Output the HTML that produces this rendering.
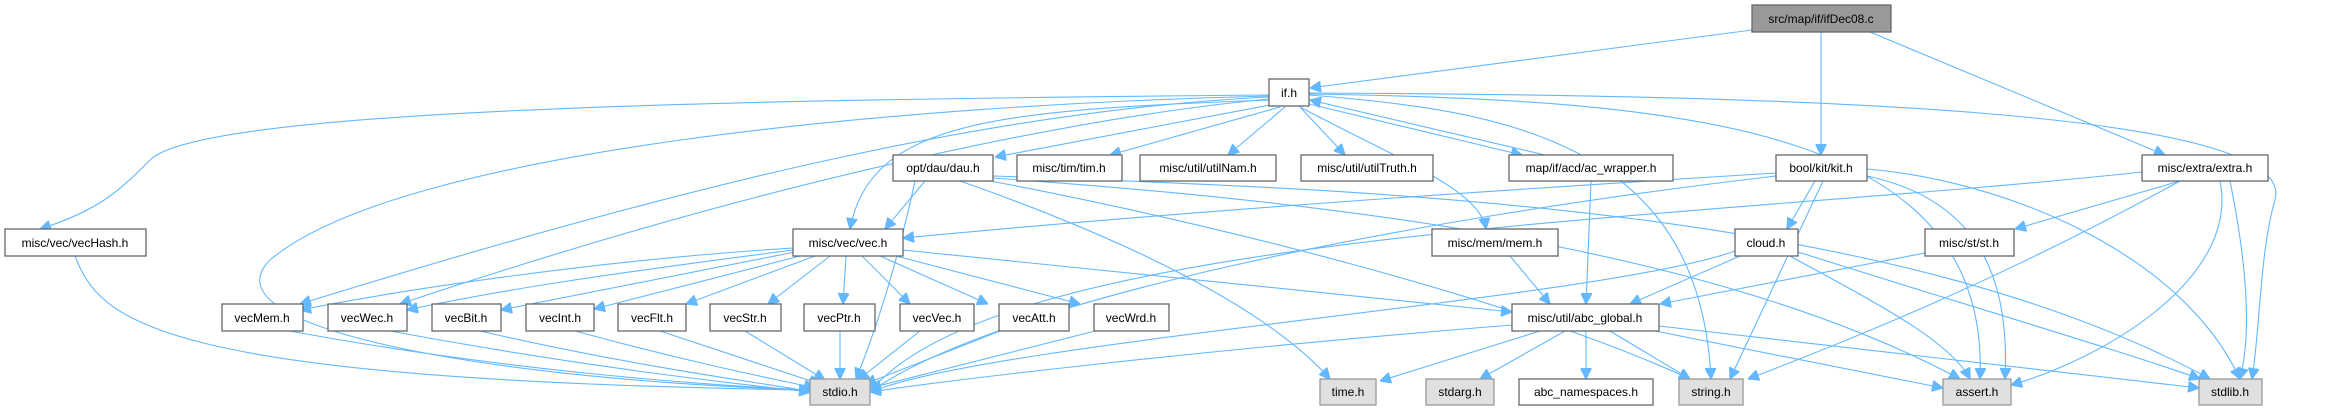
<!DOCTYPE html>
<html><head><meta charset="utf-8"><style>
html,body{margin:0;padding:0;background:#fff;}
svg{display:block;}
text{font-family:"Liberation Sans",Arial,sans-serif;font-size:12px;fill:#000;text-anchor:middle;}
.n{fill:#fff;stroke:#666;stroke-width:1.3;}
.g{fill:#e0e0e0;stroke:#999;stroke-width:1.3;}
.r{fill:#999;stroke:#666;stroke-width:1.3;}
path{fill:none;stroke:#63b8ff;stroke-width:1.1;}
</style></head><body>
<svg width="2327" height="411" viewBox="0 0 2327 411" xmlns="http://www.w3.org/2000/svg">
<defs><marker id="a" viewBox="0 0 10 10" refX="10" refY="5" markerWidth="11" markerHeight="11" markerUnits="userSpaceOnUse" orient="auto"><path d="M0,0 L10,5 L0,10 z" style="fill:#63b8ff;stroke:#63b8ff"/></marker></defs>
<g marker-end="url(#a)">
<!-- ifDec08 -->
<path d="M1752,30 L1310,88"/>
<path d="M1821,32 L1821,155"/>
<path d="M1870,32 L2165,155"/>
<!-- if.h -->
<path d="M1269,95 C700,100 200,110 150,160 C120,190 100,210 40,229"/>
<path d="M1269,96 C900,105 400,150 270,260 C200,330 500,380 810,390"/>
<path d="M1269,97 C1000,110 700,180 300,304"/>
<path d="M1269,99 C1100,115 800,170 400,304"/>
<path d="M1269,100 C1000,110 870,120 850,229"/>
<path d="M1275,104 L995,157"/>
<path d="M1280,107 L1110,155"/>
<path d="M1285,107 L1228,155"/>
<path d="M1300,107 L1345,155"/>
<path d="M1305,103 L1522,155"/>
<path d="M1545,155 L1310,100"/>
<path d="M1300,107 C1400,160 1480,190 1486,229"/>
<path d="M1309,95 C1500,110 1700,140 1711,379"/>
<path d="M1309,94 C1700,100 1990,130 1980,379"/>
<path d="M1309,93 C1800,95 2300,110 2275,200 C2260,250 2260,330 2252,379"/>
<!-- dau -->
<path d="M925,181 L885,229"/>
<path d="M915,181 C900,250 880,320 856,379"/>
<path d="M960,181 C1100,230 1260,300 1330,379"/>
<path d="M990,181 C1200,220 1520,300 1690,379"/>
<path d="M993,178 C1300,200 1700,240 1960,379"/>
<path d="M993,176 C1400,190 1900,210 2210,379"/>
<!-- vec -->
<path d="M793,248 C600,260 400,290 300,310"/>
<path d="M793,250 C600,275 500,290 407,310"/>
<path d="M795,252 C650,280 550,300 501,310"/>
<path d="M800,256 L594,309"/>
<path d="M815,256 L686,304"/>
<path d="M830,256 L768,304"/>
<path d="M846,256 L843,304"/>
<path d="M862,256 L910,304"/>
<path d="M880,256 L988,304"/>
<path d="M896,256 L1080,304"/>
<path d="M903,250 L1512,312"/>
<!-- vec row to stdio -->
<path d="M75,256 C100,320 150,380 810,390"/>
<path d="M290,331 C500,370 700,385 810,390"/>
<path d="M390,331 C600,370 750,385 810,392"/>
<path d="M480,331 C650,370 780,385 812,392"/>
<path d="M575,331 C700,365 780,380 815,388"/>
<path d="M660,331 L820,384"/>
<path d="M745,331 L825,380"/>
<path d="M840,331 L840,379"/>
<path d="M920,331 L858,380"/>
<path d="M1000,331 L865,384"/>
<path d="M1095,331 L870,388"/>
<!-- kit -->
<path d="M1776,173 C1500,190 1200,210 903,238"/>
<path d="M1776,176 C1400,220 1000,300 870,392"/>
<path d="M1815,181 L1787,229"/>
<path d="M1823,181 L1730,379"/>
<path d="M1867,176 C1980,200 2010,280 2005,379"/>
<path d="M1867,169 C2000,180 2180,250 2240,379"/>
<!-- extra -->
<path d="M2142,172 C1700,220 1000,230 870,392"/>
<path d="M2180,181 L2015,229"/>
<path d="M2180,181 C2000,280 1850,340 1748,379"/>
<path d="M2220,181 C2240,280 2100,360 2011,385"/>
<path d="M2230,181 C2250,280 2250,340 2240,379"/>
<!-- mem, acw, cloud, st -->
<path d="M1510,256 L1550,304"/>
<path d="M1591,181 L1586,304"/>
<path d="M1740,256 L1630,304"/>
<path d="M1735,251 C1600,300 1000,340 870,392"/>
<path d="M1790,256 C1870,300 1950,340 1970,379"/>
<path d="M1798,252 C1950,300 2150,360 2200,379"/>
<path d="M1925,253 L1660,304"/>
<!-- abc -->
<path d="M1512,325 C1200,350 950,380 870,392"/>
<path d="M1540,331 L1380,381"/>
<path d="M1565,331 L1480,379"/>
<path d="M1586,331 L1586,379"/>
<path d="M1610,331 L1690,379"/>
<path d="M1655,331 L1943,388"/>
<path d="M1659,326 L2199,388"/>
</g>
<!-- nodes -->
<rect class="r" x="1752" y="5" width="139" height="27"/><text x="1821" y="23">src/map/if/ifDec08.c</text>
<rect class="n" x="1269" y="79" width="40" height="27"/><text x="1289" y="97">if.h</text>
<rect class="n" x="893" y="155" width="100" height="26"/><text x="943" y="172">opt/dau/dau.h</text>
<rect class="n" x="1017" y="155" width="105" height="26"/><text x="1069" y="172">misc/tim/tim.h</text>
<rect class="n" x="1140" y="155" width="136" height="26"/><text x="1208" y="172">misc/util/utilNam.h</text>
<rect class="n" x="1301" y="155" width="132" height="26"/><text x="1367" y="172">misc/util/utilTruth.h</text>
<rect class="n" x="1509" y="155" width="164" height="26"/><text x="1591" y="172">map/if/acd/ac_wrapper.h</text>
<rect class="n" x="1776" y="155" width="91" height="26"/><text x="1821" y="172">bool/kit/kit.h</text>
<rect class="n" x="2142" y="155" width="126" height="26"/><text x="2205" y="172">misc/extra/extra.h</text>
<rect class="n" x="5" y="229" width="141" height="27"/><text x="75" y="247">misc/vec/vecHash.h</text>
<rect class="n" x="793" y="229" width="110" height="27"/><text x="848" y="247">misc/vec/vec.h</text>
<rect class="n" x="1432" y="229" width="126" height="27"/><text x="1495" y="247">misc/mem/mem.h</text>
<rect class="n" x="1735" y="229" width="63" height="27"/><text x="1766" y="247">cloud.h</text>
<rect class="n" x="1925" y="229" width="89" height="27"/><text x="1969" y="247">misc/st/st.h</text>
<rect class="n" x="222" y="304" width="81" height="27"/><text x="262" y="322">vecMem.h</text>
<rect class="n" x="328" y="304" width="79" height="27"/><text x="367" y="322">vecWec.h</text>
<rect class="n" x="432" y="304" width="69" height="27"/><text x="466" y="322">vecBit.h</text>
<rect class="n" x="526" y="304" width="68" height="27"/><text x="560" y="322">vecInt.h</text>
<rect class="n" x="618" y="304" width="68" height="27"/><text x="652" y="322">vecFlt.h</text>
<rect class="n" x="710" y="304" width="71" height="27"/><text x="745" y="322">vecStr.h</text>
<rect class="n" x="804" y="304" width="71" height="27"/><text x="839" y="322">vecPtr.h</text>
<rect class="n" x="900" y="304" width="74" height="27"/><text x="937" y="322">vecVec.h</text>
<rect class="n" x="999" y="304" width="70" height="27"/><text x="1034" y="322">vecAtt.h</text>
<rect class="n" x="1094" y="304" width="75" height="27"/><text x="1131" y="322">vecWrd.h</text>
<rect class="n" x="1512" y="304" width="147" height="27"/><text x="1585" y="322">misc/util/abc_global.h</text>
<rect class="g" x="810" y="379" width="60" height="26"/><text x="840" y="396">stdio.h</text>
<rect class="g" x="1320" y="379" width="56" height="26"/><text x="1348" y="396">time.h</text>
<rect class="g" x="1426" y="379" width="68" height="26"/><text x="1460" y="396">stdarg.h</text>
<rect class="n" x="1519" y="379" width="134" height="26"/><text x="1586" y="396">abc_namespaces.h</text>
<rect class="g" x="1679" y="379" width="64" height="26"/><text x="1711" y="396">string.h</text>
<rect class="g" x="1943" y="379" width="68" height="26"/><text x="1977" y="396">assert.h</text>
<rect class="g" x="2199" y="379" width="63" height="26"/><text x="2230" y="396">stdlib.h</text>
</svg>
</body></html>
